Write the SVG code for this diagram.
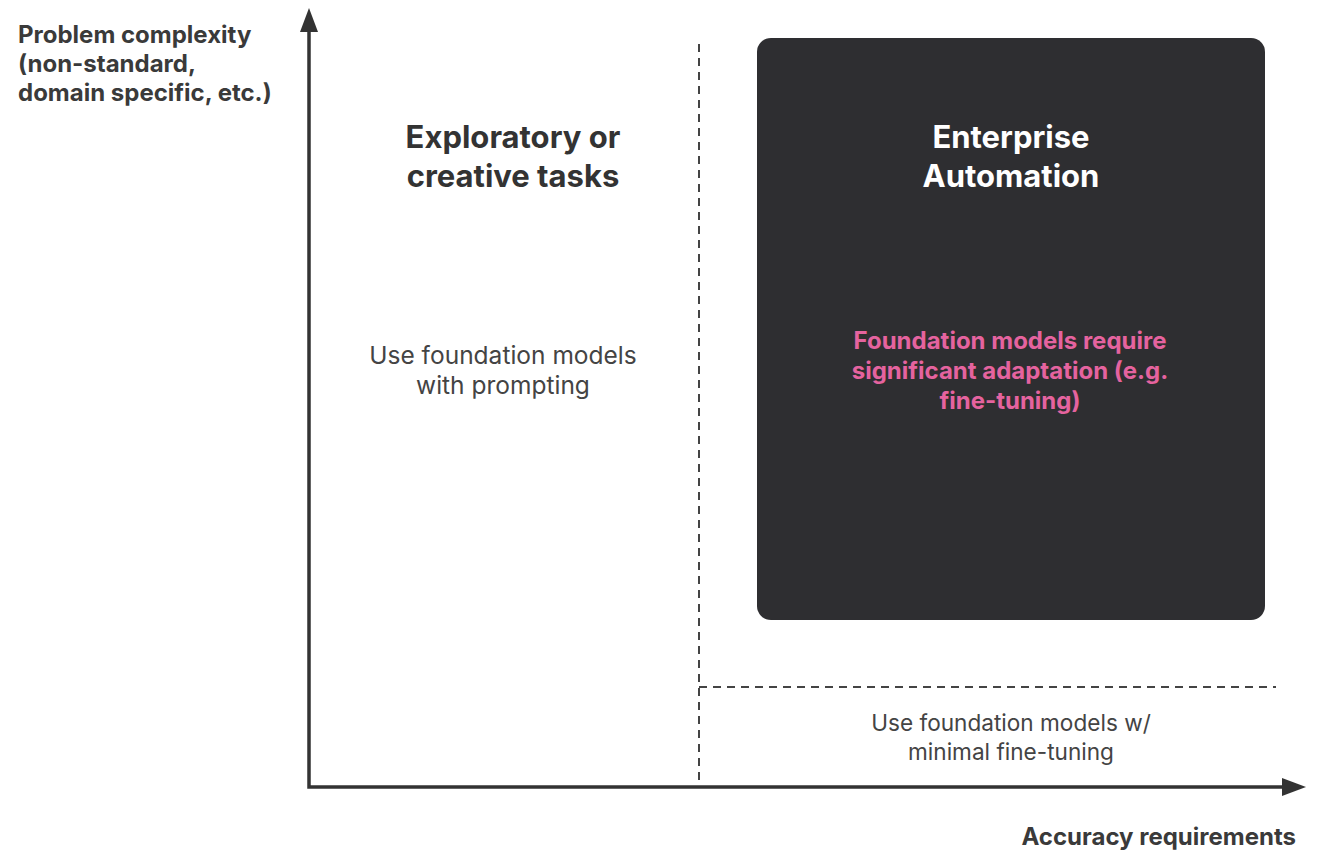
<svg xmlns="http://www.w3.org/2000/svg" width="1317" height="852" viewBox="0 0 1317 852">
<defs>
<style>
text{font-family:Inter,"Liberation Sans",sans-serif;}
.lab{font-size:24px;font-weight:700;fill:#3a3a3a;}
.title{font-size:31px;font-weight:700;text-anchor:middle;}
.body{fill:#444;text-anchor:middle;}
.pink{font-size:24px;font-weight:700;fill:#e5639f;text-anchor:middle;}
.axis{stroke:#333;stroke-width:3.5;fill:none;}
.dash{stroke:#444;stroke-width:2;stroke-dasharray:8 6;fill:none;}
</style>
</defs>
<rect width="1317" height="852" fill="#fff"/>
<g id="connectors">
<path class="dash" d="M699 44 V787"/>
<path class="dash" d="M699 687 H1276"/>
<path class="axis" d="M309 30 V787 H1284"/>
<polygon points="309,8 300,32 318,32" fill="#333"/>
<polygon points="1306,787 1282,778 1282,796" fill="#333"/>
</g>
<g id="y-label">
<text class="lab" x="18" y="43">Problem complexity</text>
<text class="lab" x="18" y="72">(non-standard,</text>
<text class="lab" x="18" y="101">domain specific, etc.)</text>
</g>
<g id="x-label">
<text class="lab" x="1296" y="845" text-anchor="end">Accuracy requirements</text>
</g>
<g id="exploratory">
<text class="title" x="513" y="148" fill="#333">Exploratory or</text>
<text class="title" x="513" y="187" fill="#333">creative tasks</text>
<text class="body" x="503" y="364" font-size="24.5">Use foundation models</text>
<text class="body" x="503" y="394" font-size="24.5">with prompting</text>
</g>
<g id="enterprise">
<rect x="757" y="38" width="508" height="582" rx="14" fill="#2e2e31"/>
<text class="title" x="1011" y="148" fill="#fff">Enterprise</text>
<text class="title" x="1011" y="187" fill="#fff">Automation</text>
<text class="pink" x="1010" y="349">Foundation models require</text>
<text class="pink" x="1010" y="379">significant adaptation (e.g.</text>
<text class="pink" x="1010" y="409">fine-tuning)</text>
</g>
<g id="minimal">
<text class="body" x="1011" y="731" font-size="22.6">Use foundation models w/</text>
<text class="body" x="1011" y="760" font-size="22.6">minimal fine-tuning</text>
</g>
</svg>
